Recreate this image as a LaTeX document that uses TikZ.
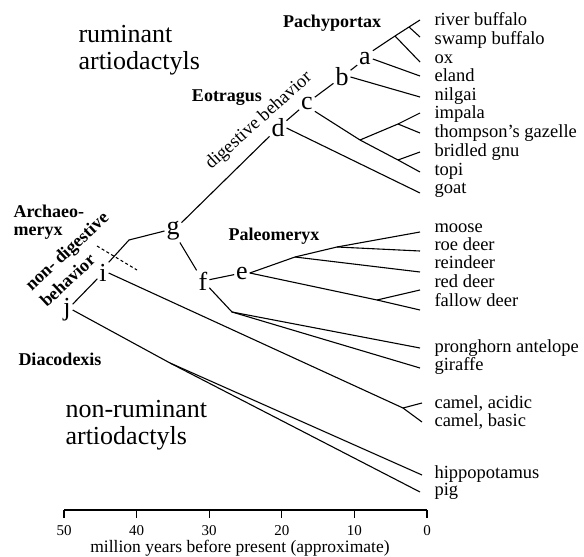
\documentclass[tikz,border=0pt]{standalone}
\usepackage{fontspec}
\setmainfont{Liberation Serif}
\begin{document}
\begin{tikzpicture}[x=1pt,y=-1pt, line width=1.1pt,
  lt/.style={font=\fontsize{26}{26}\selectfont, inner sep=1.5pt},
  sp/.style={font=\fontsize{18.5}{19}\selectfont, anchor=base west, inner sep=0pt},
  bl/.style={font=\fontsize{18}{18}\selectfont\bfseries, anchor=base, inner sep=0pt},
  big/.style={font=\fontsize{26}{27}\selectfont, anchor=base west, inner sep=0pt},
  tk/.style={font=\fontsize{15}{15}\selectfont, anchor=base, inner sep=0pt},
]
\fill[white] (0,0) rectangle (584,557);
\useasboundingbox (0,0) rectangle (584,557);

% letters
\node[lt] (a) at (365,59) {a};
\node[lt] (b) at (342,77) {b};
\node[lt] (c) at (307,103) {c};
\node[lt] (d) at (278,128) {d};
\node[lt] (e) at (242,273) {e};
\node[lt] (f) at (203,281) {f};
\node[lt] (g) at (173,231) {g};
\node[lt] (i) at (103,273) {i};
\node[lt] (j) at (67,310) {j};

% species labels
\node[sp] (lRiver) at (434,25) {river buffalo};
\node[sp] (lSwamp) at (434,44) {swamp buffalo};
\node[sp] (lOx) at (434,63) {ox};
\node[sp] (lEland) at (434,81) {eland};
\node[sp] (lNilgai) at (434,100) {nilgai};
\node[sp] (lImpala) at (434,118) {impala};
\node[sp] (lThomp) at (434,137) {thompson's gazelle};
\node[sp] (lGnu) at (434,156) {bridled gnu};
\node[sp] (lTopi) at (434,175) {topi};
\node[sp] (lGoat) at (434,193) {goat};
\node[sp] (lMoose) at (434,232) {moose};
\node[sp] (lRoe) at (434,250) {roe deer};
\node[sp] (lRein) at (434,268) {reindeer};
\node[sp] (lRed) at (434,287) {red deer};
\node[sp] (lFallow) at (434,306) {fallow deer};
\node[sp] (lProng) at (434,352) {pronghorn antelope};
\node[sp] (lGiraffe) at (434,370) {giraffe};
\node[sp] (lAcid) at (434,408) {camel, acidic};
\node[sp] (lBasic) at (434,426) {camel, basic};
\node[sp] (lHippo) at (434,478) {hippopotamus};
\node[sp] (lPig) at (434,495) {pig};

% tips
\coordinate (tRiver) at (420,20);
\coordinate (tSwamp) at (420,37);
\coordinate (tOx) at (420,62);
\coordinate (tEland) at (420,76);
\coordinate (tNilgai) at (420,97);
\coordinate (tImpala) at (420,113);
\coordinate (tThomp) at (420,133);
\coordinate (tGnu) at (420,152);
\coordinate (tTopi) at (420,172);
\coordinate (tGoat) at (420,193);
\coordinate (tMoose) at (420,232);
\coordinate (tRoe) at (420,251);
\coordinate (tRein) at (420,272);
\coordinate (tRed) at (420,290);
\coordinate (tFallow) at (420,310);
\coordinate (tProng) at (420,348);
\coordinate (tGiraffe) at (420,368);
\coordinate (tAcid) at (422,403);
\coordinate (tBasic) at (422,422);
\coordinate (tHippo) at (422,475);
\coordinate (tPig) at (420,492);

% junctions
\coordinate (J1) at (395,36);
\coordinate (J2) at (409,27);
\coordinate (K1) at (360,140);
\coordinate (K2) at (398,124);
\coordinate (K3) at (398,160);
\coordinate (E1) at (295,257);
\coordinate (E2) at (337,247);
\coordinate (E3) at (377,300);
\coordinate (F1) at (232,312);
\coordinate (C1) at (403,408);
\coordinate (S) at (170,363);
\coordinate (Kg) at (129,240);
\coordinate (dash1) at (97,246);
\coordinate (dash2) at (137,270);

% branches
\draw (a.north east) -- (J1) -- (J2) -- (tRiver);
\draw (J2) -- (tSwamp);
\draw (J1) -- (tOx);
\draw (a.east) -- (tEland);
\draw (b.east) -- (tNilgai);
\draw (b) -- (a);
\draw (c) -- (b);
\draw (d) -- (c);
\draw (c.south east) -- (K1) -- (K3) -- (tTopi);
\draw (K1) -- (K2) -- (tImpala);
\draw (K2) -- (tThomp);
\draw (K3) -- (tGnu);
\draw (d.east) -- (tGoat);
\draw (g) -- (d);
\draw (g) -- (f);
\draw (f) -- (e);
\draw (e.east) -- (E1) -- (E2) -- (tMoose);
\draw (E2) -- (tRoe);
\draw (E1) -- (tRein);
\draw (e.east) -- (E3) -- (tFallow);
\draw (E3) -- (tRed);
\draw (f) -- (F1) -- (tProng);
\draw (F1) -- (tGiraffe);
\draw (i.east) -- (C1) -- (tBasic);
\draw (C1) -- (tAcid);
\draw (j) -- (i);
\draw (j.east) -- (S) -- (tPig);
\draw (S) -- (tHippo);
\draw (i.north east) -- (Kg) -- (g.west);
\draw[dashed, dash pattern=on 3pt off 2.5pt] (dash1) -- (dash2);

% axis
\coordinate (ax0) at (64,510);
\coordinate (ax1) at (427,510);
\draw[line width=1.3pt] (ax0) -- (ax1);
\foreach \v [count=\k from 0] in {50,40,30,20,10,0} {
  \draw[line width=1.3pt] (64+72.6*\k,510) -- ++(0,8);
  \node[tk] (tick\k) at (64+72.6*\k,535) {\v};
}
\node[font=\fontsize{17.5}{18}\selectfont, anchor=base, inner sep=0pt] (cap) at (240,552) {million years before present (approximate)};

% group labels
\node[big] (rum1) at (78,42) {ruminant};
\node[big] (rum2) at (78,69) {artiodactyls};
\node[big] (nr1) at (65,417) {non-ruminant};
\node[big] (nr2) at (65,444) {artiodactyls};

\node[bl] (pachy) at (332,27) {Pachyportax};
\node[bl] (eotr) at (227,101) {Eotragus};
\node[bl] (paleo) at (274,240) {Paleomeryx};
\node[bl, anchor=base west] (arch1) at (13,217) {Archaeo-};
\node[bl, anchor=base west] (arch2) at (13,235) {meryx};
\node[bl] (diaco) at (60,365) {Diacodexis};

\node[font=\fontsize{18.5}{18.5}\selectfont, rotate=42, inner sep=0pt] (dig) at (259,121) {digestive behavior};
\node[font=\fontsize{18}{22}\selectfont\bfseries, rotate=43, align=left, inner sep=0pt] (nondig) at (74,259) {non- digestive\\behavior};
\end{tikzpicture}
\end{document}
